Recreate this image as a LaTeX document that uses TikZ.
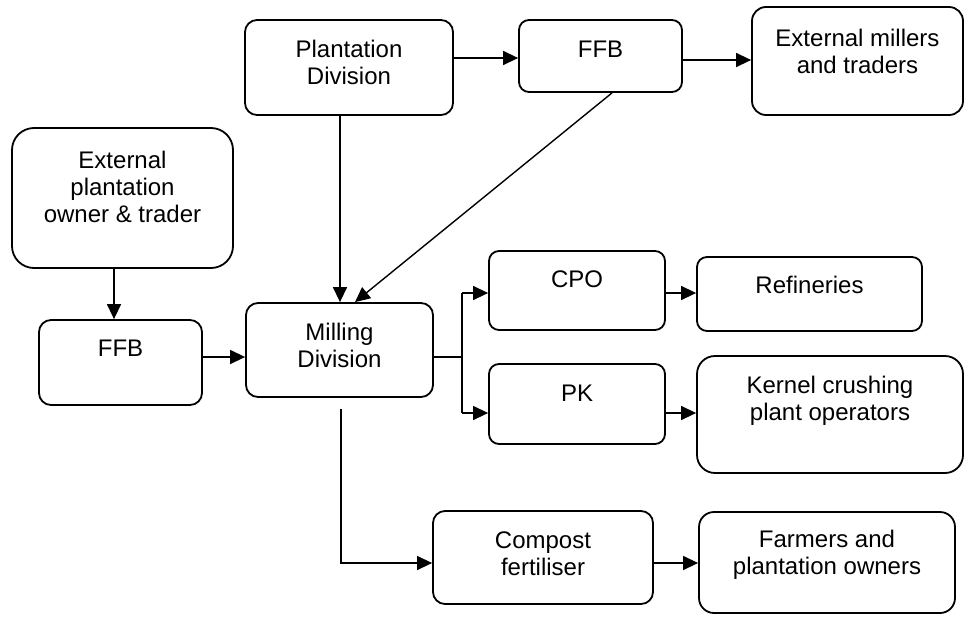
\documentclass[tikz,border=0pt]{standalone}
\usepackage{fontspec}
\setmainfont{Liberation Sans}
\usetikzlibrary{arrows.meta}
\begin{document}
\begin{tikzpicture}[x=1pt,y=-1pt,
  box/.style={draw, line width=1.8pt, rounded corners=#1, inner sep=0pt},
  box/.default=11pt,
  lbl/.style={align=center, inner sep=0pt, font=\fontsize{24}{27}\selectfont},
  conn/.style={line width=1.4pt},
  arr/.style={conn, -{Triangle[length=15pt,width=14pt]}}]
\useasboundingbox (0,0) rectangle (966,616);

% boxes: centre = mid of corners, size = width x height
\node[box=12pt, minimum width=208pt, minimum height=95pt]  (pd)   at (349,67.5)  {};
\node[box=10pt, minimum width=163pt, minimum height=72pt]  (ffbT) at (600.5,56)  {};
\node[box=14pt, minimum width=211pt, minimum height=108pt] (ext)  at (857.5,61)  {};
\node[box=22pt, minimum width=221pt, minimum height=140pt] (epo)  at (122.5,198) {};
\node[box=12pt, minimum width=163pt, minimum height=85pt]  (ffbL) at (120.5,362.5) {};
\node[box=12pt, minimum width=187pt, minimum height=94pt]  (mill) at (339.5,350) {};
\node[box=10pt, minimum width=176pt, minimum height=79pt]  (cpo)  at (577,290.5) {};
\node[box=10pt, minimum width=225pt, minimum height=74pt]  (ref)  at (809.5,294) {};
\node[box=10pt, minimum width=176pt, minimum height=80pt]  (pk)   at (577,404) {};
\node[box=18pt, minimum width=266pt, minimum height=117pt] (ker)  at (830,414.5) {};
\node[box=12pt, minimum width=220pt, minimum height=93pt]  (comp) at (543,557.5) {};
\node[box=15pt, minimum width=256pt, minimum height=101pt] (farm) at (827,562.5) {};

% box texts
\node[lbl] (pd-t)   at (349,62)    {Plantation\\Division};
\node[lbl] (ffbT-t) at (600.5,49)  {FFB};
\node[lbl] (ext-t)  at (857.5,51.5) {External millers\\and traders};
\node[lbl] (epo-t)  at (122.5,187) {External\\plantation\\owner \& trader};
\node[lbl] (ffbL-t) at (120.5,348) {FFB};
\node[lbl] (mill-t) at (339.5,345) {Milling\\Division};
\node[lbl] (cpo-t)  at (577,279)   {CPO};
\node[lbl] (ref-t)  at (809.5,285) {Refineries};
\node[lbl] (pk-t)   at (577,393)   {PK};
\node[lbl] (ker-t)  at (830,400.5) {Kernel crushing\\plant operators};
\node[lbl] (comp-t) at (543,554)   {Compost\\fertiliser};
\node[lbl] (farm-t) at (827,555)   {Farmers and\\plantation owners};

% branch points
\coordinate (split) at (462,357);
\coordinate (drop)  at (341,409);
\coordinate (bend)  at (341,563);

% connectors
\draw[arr] (pd.east |- 0,58) -- (ffbT.west |- 0,58);
\draw[arr] (ffbT.east |- 0,60) -- (ext.west |- 0,60);
\draw[arr] (pd.south -| 340,0) -- (mill.north -| 340,0);
\draw[arr] (ffbT.south -| 612,0) -- (mill.north -| 355,0);
\draw[arr] (epo.south -| 114,0) -- (ffbL.north -| 114,0);
\draw[arr] (ffbL.east |- 0,357) -- (mill.west |- 0,357);
\draw[conn] (mill.east |- split) -- (split);
\draw[conn] (split |- 0,293) -- (split |- 0,413);
\draw[arr] (split |- 0,293) -- (cpo.west |- 0,293);
\draw[arr] (split |- 0,413) -- (pk.west |- 0,413);
\draw[arr] (cpo.east |- 0,293) -- (ref.west |- 0,293);
\draw[arr] (pk.east |- 0,413) -- (ker.west |- 0,413);
\draw[arr] (drop) -- (bend) -- (comp.west |- bend);
\draw[arr] (comp.east |- 0,563) -- (farm.west |- 0,563);
\end{tikzpicture}
\end{document}
